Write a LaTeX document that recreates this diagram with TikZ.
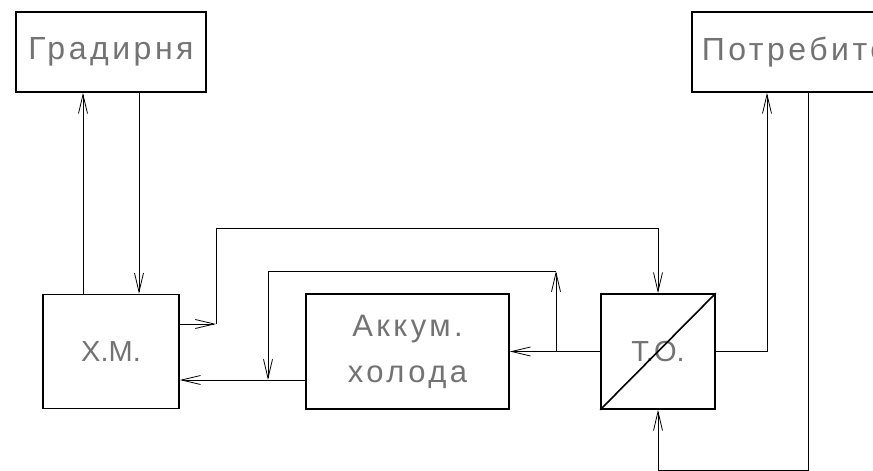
\documentclass[tikz,border=0pt]{standalone}
\usepackage{fontspec}
\setmainfont{Liberation Sans}[LetterSpace=11]
\newfontfamily\tightfont{Liberation Sans}
\usetikzlibrary{arrows.meta}
\begin{document}
\begin{tikzpicture}[x=1pt,y=-1pt,
  box/.style={draw,line width=1.6pt,inner sep=0pt},
  lbl/.style={text=black!55,font=\fontsize{32}{46}\selectfont,align=center},
  abbr/.style={text=black!55,font=\tightfont\fontsize{29}{40}\selectfont},
  conn/.style={line width=0.8pt},
  arr/.style={conn,-{Straight Barb[length=19pt,width=9pt]}}]
\useasboundingbox (0,0) rectangle (873,471);
\fill[white] (0,0) rectangle (873,471);
\clip (0,0) rectangle (873,471);
% blocks
\node[box,lbl,minimum width=190pt,minimum height=80pt] (grad) at (111,52) {Градирня};
\node[box,lbl,anchor=west,minimum height=80pt,inner xsep=10pt] (potr) at (691,52) {Потребитель};
\node[box,abbr,minimum width=136pt,minimum height=114pt] (xm) at (111,351.5) {Х.М.};
\node[box,lbl,font=\fontsize{31}{46}\selectfont,minimum width=203pt,minimum height=115pt] (akk) at (407.5,351.5) {Аккум.\\холода};
\node[box,abbr,minimum width=114pt,minimum height=115pt] (to) at (658,351.5) {Т.О.};
\draw[line width=1.6pt] (to.south west) -- (to.north east);
% helper points
\coordinate (g1) at (83,0);
\coordinate (g2) at (139,0);
\coordinate (c1) at (216,324);
\coordinate (t1) at (216,228);
\coordinate (j1) at (556,351.5);
\coordinate (j2) at (556,271);
\coordinate (j3) at (268,271);
\coordinate (j4) at (268,380);
\coordinate (p1) at (767,351.5);
\coordinate (p2) at (808,470);
% connectors
\draw[arr] (xm.north -| g1) -- (grad.south -| g1);
\draw[arr] (grad.south -| g2) -- (xm.north -| g2);
\draw[arr] (xm.east |- c1) -- (c1);
\draw[arr] (c1) -- (t1) -| (to.north);
\draw[arr] (to.west) -- (akk.east |- j1);
\draw[arr] (j1) -- (j2);
\draw[arr] (j2) -- (j3) -- (j4);
\draw[arr] (akk.west |- j4) -- (xm.east |- j4);
\draw[arr] (to.east) -- (p1) -- (potr.south -| p1);
\draw[arr] (potr.south -| p2) -- (p2) -| (to.south);
\end{tikzpicture}
\end{document}
